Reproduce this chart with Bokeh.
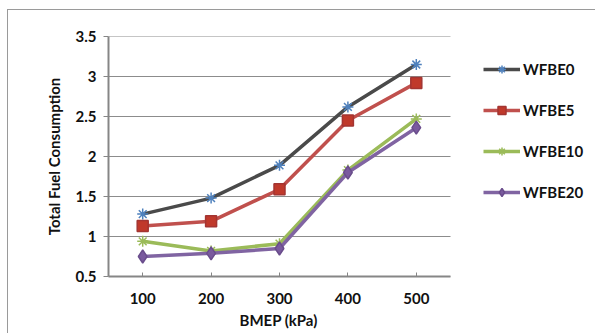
from bokeh.plotting import figure
from bokeh.models import ColumnDataSource, Legend, LegendItem, FixedTicker, Range1d, Title
from bokeh.embed import file_html
from bokeh.resources import INLINE

bmep = [100, 200, 300, 400, 500]
wfbe0 = [1.28, 1.48, 1.89, 2.62, 3.15]
wfbe5 = [1.13, 1.19, 1.59, 2.45, 2.92]
wfbe10 = [0.94, 0.82, 0.91, 1.83, 2.47]
wfbe20 = [0.75, 0.79, 0.85, 1.80, 2.36]
series_names = ["WFBE0", "WFBE5", "WFBE10", "WFBE20"]
y_ticks = [0.5, 1, 1.5, 2, 2.5, 3, 3.5]
x_title = "BMEP (kPa)"
y_title = "Total Fuel Consumption"

X_MIN, X_MAX = 50, 550          # extent of the plotting area along x
Y_MIN, Y_MAX = 0.5, 3.5

FONT = "Lato"

# layout numbers (pixels)
W, H = 588, 324
LEFT, TOP, BOTTOM = 100, 26, 58
PLOT_W = 342
frame_w = W - LEFT
x_view_end = X_MIN + (X_MAX - X_MIN) * frame_w / PLOT_W   # extra room on the right for the legend

src = ColumnDataSource(dict(x=bmep, WFBE0=wfbe0, WFBE5=wfbe5, WFBE10=wfbe10, WFBE20=wfbe20))
grid_src = ColumnDataSource(dict(y=y_ticks, x0=[X_MIN] * len(y_ticks), x1=[X_MAX] * len(y_ticks)))

p = figure(width=W, height=H, output_backend="svg", toolbar_location=None,
           x_range=Range1d(X_MIN, x_view_end), y_range=Range1d(Y_MIN, Y_MAX),
           min_border_left=LEFT, min_border_right=0, min_border_top=TOP, min_border_bottom=BOTTOM,
           margin=(9, 0, 0, 7),
           styles={"border-top": "1px solid #9a9a9a", "border-left": "1px solid #9a9a9a"})
p.outline_line_color = None
p.background_fill_color = "white"
p.border_fill_color = "white"
p.xgrid.grid_line_color = None
p.ygrid.grid_line_color = None

# horizontal gridlines limited to the plotting area
p.segment(x0="x0", x1="x1", y0="y", y1="y", source=grid_src, line_color="#8c8c8c", line_width=1)

styles = {
    "WFBE0": dict(line="#4a4a4a", marker="asterisk", mfill="#4f81bd", mline="#4f81bd", size=11),
    "WFBE5": dict(line="#c0504d", marker="square", mfill="#c0392b", mline="#a33532", size=11),
    "WFBE10": dict(line="#9bbb59", marker="asterisk", mfill="#9bbb59", mline="#9bbb59", size=11),
    "WFBE20": dict(line="#8064a2", marker="diamond", mfill="#7a5a9e", mline="#6a4d8c", size=13),
}

items = []
for name in series_names:
    s = styles[name]
    l = p.line("x", name, source=src, line_color=s["line"], line_width=3.5)
    m = p.scatter("x", name, source=src, marker=s["marker"], size=s["size"],
                  fill_color=s["mfill"], line_color=s["mline"], line_width=1.5)
    items.append(LegendItem(label=name, renderers=[l, m]))

legend = Legend(items=items, location=(375, 74), orientation="vertical",
                glyph_width=37, glyph_height=20, spacing=21, padding=0, margin=0,
                label_standoff=3, border_line_color=None, background_fill_alpha=0,
                label_text_font=FONT, label_text_font_style="bold", label_text_font_size="15px",
                label_text_color="#111111")
p.add_layout(legend, "center")

# axes
p.xaxis.ticker = FixedTicker(ticks=bmep)
p.yaxis.ticker = FixedTicker(ticks=y_ticks)
p.xaxis.bounds = (X_MIN, X_MAX)
p.xaxis.minor_tick_line_color = None
p.yaxis.minor_tick_line_color = None
for ax in (p.xaxis, p.yaxis):
    ax.axis_line_color = "#868686"
    ax.axis_line_width = 2
    ax.major_tick_line_color = "#868686"
    ax.major_tick_line_width = 1
    ax.major_label_text_font = FONT
    ax.major_label_text_font_style = "bold"
    ax.major_label_text_font_size = "15px"
    ax.major_label_text_color = "#111111"
    ax.axis_label_text_font = FONT
    ax.axis_label_text_font_style = "bold"
    ax.axis_label_text_font_size = "15px"
    ax.axis_label_text_color = "#111111"
p.yaxis.major_tick_out = 5
p.yaxis.major_tick_in = 0
p.yaxis.major_label_standoff = 7
p.xaxis.major_tick_out = 0
p.xaxis.major_tick_in = 4
p.xaxis.major_label_standoff = 16
p.yaxis.axis_label = y_title
p.yaxis.axis_label_standoff = 10

# x-axis title centred under the plotting area (not under the whole frame)
xt = Title(text=x_title, align="left", offset=131, standoff=5,
           text_font=FONT, text_font_style="bold", text_font_size="15px", text_color="#111111")
p.add_layout(xt, "below")

open("out.html", "w").write(file_html(p, INLINE))
